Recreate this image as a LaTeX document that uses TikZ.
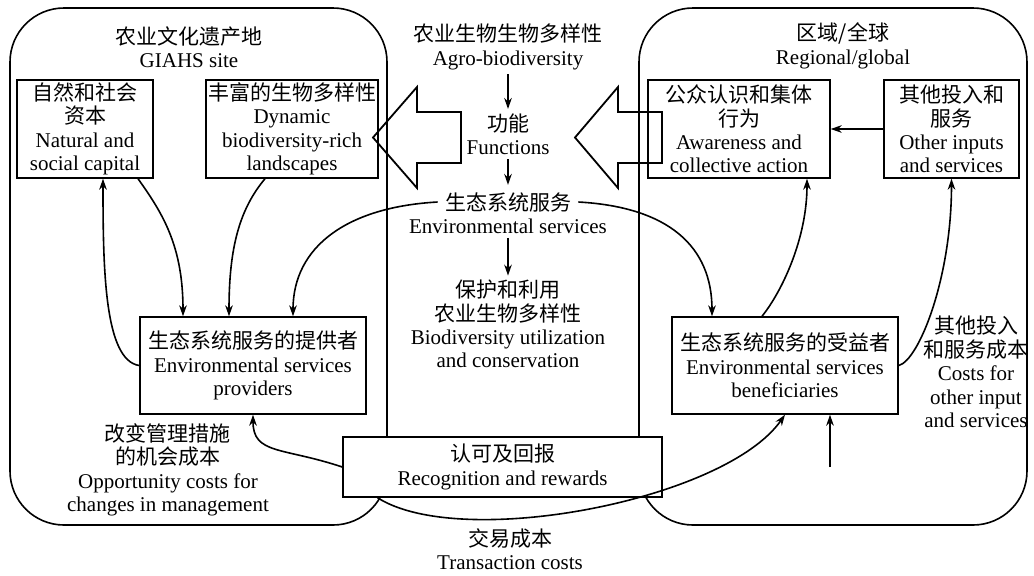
\documentclass[tikz,border=0pt]{standalone}
\usepackage{fontspec}
\setmainfont{Liberation Serif}
\newfontfamily\zhfont{Noto Sans CJK SC}
\newcommand{\zh}[1]{{\zhfont #1}}
\usetikzlibrary{arrows.meta,calc}
\tikzset{
  box/.style={rectangle, draw, line width=0.7pt, align=center, inner sep=1pt},
  lbl/.style={align=center, inner sep=2pt},
  area/.style={draw, line width=0.8pt, rounded corners=27pt},
  bigarrow/.style={draw, line width=0.9pt, line join=miter},
  link/.style={line width=0.8pt, -{Stealth[length=5.5pt,width=3.8pt]}},
}
\begin{document}
\begin{tikzpicture}[x=0.5pt, y=-0.5pt, font={\fontsize{10.5}{11.7}\selectfont}]
\useasboundingbox (0,0) rectangle (1034,575);
% GIAHS site and regional/global areas
\draw[area] (10,8) rectangle (387,525);
\draw[area] (639,8) rectangle (1027,525);
\node[lbl] (giahs) at (189,47) {\zh{农业文化遗产地}\\GIAHS site};
\node[lbl] (region) at (843,46) {\zh{区域/全球}\\Regional/global};

% hollow arrows
\draw[bigarrow] (461,112) -- (417,112) -- (417,87) -- (373,137.5) -- (417,188) -- (417,163) -- (461,163) -- cycle;
\draw[bigarrow] (662,112) -- (618,112) -- (618,87) -- (575,137.5) -- (618,188) -- (618,163) -- (662,163) -- cycle;

% middle column
\node[lbl] (agro) at (508,47) {\zh{农业生物生物多样性}\\Agro-biodiversity};
\node[lbl] (func) at (508,134) {\zh{功能}\\Functions};
\node[lbl, inner sep=3.5pt] (es) at (508,202) {\zh{生态系统服务}};
\node[lbl] (esen) at (508,226) {Environmental services};
\node[lbl] (cons) at (508,324) {\zh{保护和利用}\\\zh{农业生物多样性}\\Biodiversity utilization\\and conservation};
\draw[link] (agro) -- (func);
\draw[link] (func) -- (es);
\draw[link] (esen) -- (cons);

% boxes
\node[box, minimum width=68pt, minimum height=49pt] (nat) at (85,129) {\zh{自然和社会}\\\zh{资本}\\Natural and\\social capital};
\node[box, minimum width=81pt, minimum height=49pt] (land) at (292,129) {\zh{丰富的生物多样性}\\Dynamic\\biodiversity-rich\\landscapes};
\node[box, minimum width=91pt, minimum height=49pt] (aware) at (739,129) {\zh{公众认识和集体}\\\zh{行为}\\Awareness and\\collective action};
\node[box, minimum width=67.5pt, minimum height=49pt] (other) at (951.5,129) {\zh{其他投入和}\\\zh{服务}\\Other inputs\\and services};
\node[box, minimum width=113pt, minimum height=48.5pt] (prov) at (253,365.5) {\zh{生态系统服务的提供者}\\Environmental services\\providers};
\node[box, minimum width=113pt, minimum height=48.5pt] (bene) at (785,365.5) {\zh{生态系统服务的受益者}\\Environmental services\\beneficiaries};
\node[box, fill=white, minimum width=159.5pt, minimum height=30pt] (recog) at (502.5,467) {\zh{认可及回报}\\Recognition and rewards};

% cost labels
\node[lbl] (opp) at (168,470) {\zh{改变管理措施}\\\zh{的机会成本}\\Opportunity costs for\\changes in management};
\node[lbl] (trans) at (510,549) {\zh{交易成本}\\Transaction costs};
\node[lbl] (costs) at (976,372) {\zh{其他投入}\\\zh{和服务成本}\\Costs for\\other input\\and services};

% connectors
\coordinate (tc) at ($(recog.south)+(-125,0)$);
\coordinate (inp) at (830,467);
\draw[link] ($(nat.south)+(53,0)$) .. controls +(25,35) and +(0,-70) .. ($(prov.north)+(-70,0)$);
\draw[link] ($(land.south)+(-27,0)$) .. controls +(-25,30) and +(0,-70) .. ($(prov.north)+(-24,0)$);
\draw[link] (es.west) .. controls +(-90,5) and +(0,-70) .. ($(prov.north)+(40,0)$);
\draw[link] (es.east) .. controls +(90,5) and +(0,-70) .. ($(bene.north)+(-73,0)$);
\draw[link] (prov.west) .. controls +(-35,-5) and +(0,90) .. ($(nat.south)+(18,0)$);
\draw[link] (recog.west) .. controls +(-60,-20) and +(0,40) .. (prov.south);
\draw[link] (tc) .. controls +(83,53) and +(-60,86) .. (bene.south);
\draw[link] ($(bene.north)+(-23,0)$) .. controls +(20,-25) and +(0,60) .. ($(aware.south)+(68,0)$);
\draw[link] (bene.east) .. controls +(20,-5) and +(0,100) .. (other.south);
\draw[link] (other) -- (aware);
\draw[link] (inp) -- (inp |- bene.south);
\end{tikzpicture}
\end{document}
